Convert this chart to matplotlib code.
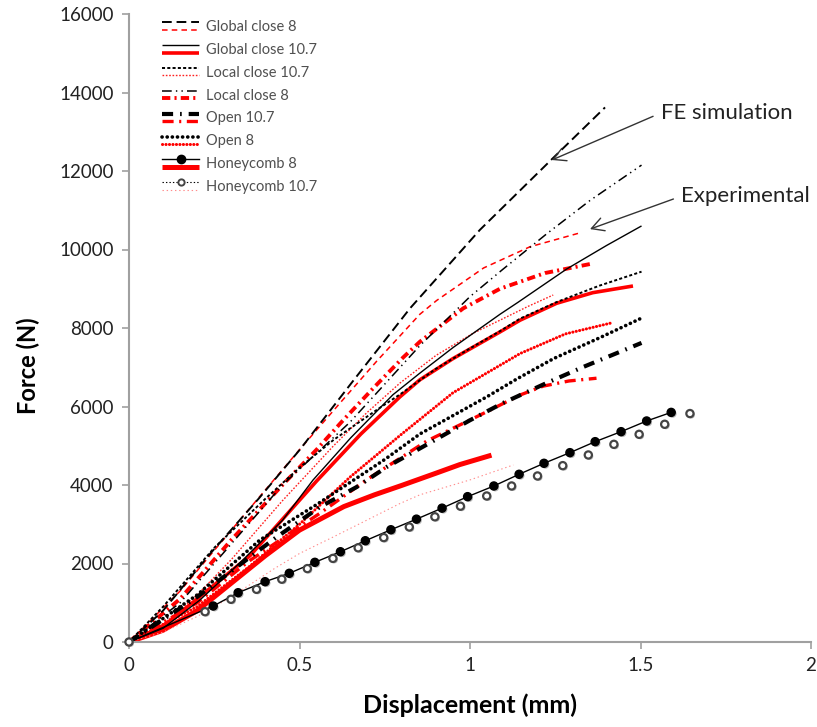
import matplotlib
matplotlib.use("Agg")
import matplotlib.pyplot as plt
import matplotlib.patheffects as pe
from matplotlib.lines import Line2D
from matplotlib.legend_handler import HandlerBase

plt.rcParams['font.family'] = ['Lato', 'DejaVu Sans']
plt.rcParams['lines.scale_dashes'] = False

# ---------------- data ----------------
x_ticks = [0, 0.5, 1, 1.5, 2]
y_ticks = [0, 2000, 4000, 6000, 8000, 10000, 12000, 14000, 16000]

labels = ["Global close 8", "Global close 10.7", "Local close 10.7", "Local close 8",
          "Open 10.7", "Open 8", "Honeycomb 8", "Honeycomb 10.7"]

# FE simulation (black)
gc8_fe_x = [0, 0.10, 0.238, 0.38, 0.501, 0.657, 0.824, 1.029, 1.24, 1.396]
gc8_fe_y = [0, 800, 2250, 3650, 4900, 6650, 8500, 10500, 12300, 13620]

gc107_fe_x = [0, 0.10, 0.208, 0.28, 0.334, 0.45, 0.54, 0.65, 0.774, 0.853, 0.95, 1.088, 1.14, 1.283, 1.40, 1.503]
gc107_fe_y = [0, 350, 1070, 1650, 2090, 3100, 4130, 5200, 6300, 6850, 7500, 8350, 8650, 9500, 10100, 10600]

lc107_fe_x = [0, 0.10, 0.25, 0.40, 0.501, 0.60, 0.726, 0.80, 0.90, 1.00, 1.088, 1.147, 1.254, 1.38, 1.503]
lc107_fe_y = [0, 900, 2400, 3650, 4450, 5150, 5910, 6340, 6960, 7480, 7920, 8240, 8660, 9080, 9435]

lc8_fe_x = [0, 0.15, 0.30, 0.45, 0.648, 0.853, 1.00, 1.097, 1.225, 1.352, 1.503]
lc8_fe_y = [0, 1000, 2500, 4000, 5600, 7550, 8800, 9500, 10400, 11250, 12150]

op107_fe_x = [0, 0.20, 0.434, 0.56, 0.668, 0.756, 0.863, 1.00, 1.097, 1.225, 1.332, 1.503]
op107_fe_y = [0, 1150, 2680, 3440, 3950, 4460, 4980, 5650, 6090, 6600, 7007, 7620]

op8_fe_x = [0, 0.20, 0.384, 0.55, 0.75, 0.853, 1.05, 1.137, 1.245, 1.38, 1.50]
op8_fe_y = [0, 1200, 2600, 3500, 4650, 5300, 6250, 6700, 7220, 7750, 8240]

hc8_fe_x = [0, 0.247, 0.320, 0.399, 0.470, 0.545, 0.620, 0.693, 0.768, 0.843, 0.918,
            0.993, 1.070, 1.144, 1.217, 1.293, 1.367, 1.443, 1.518, 1.590]
hc8_fe_y = [0, 917, 1256, 1537, 1750, 2030, 2300, 2580, 2860, 3130, 3410,
            3703, 3975, 4273, 4553, 4824, 5104, 5359, 5631, 5850]

hc107_fe_x = [0, 0.223, 0.299, 0.374, 0.448, 0.523, 0.598, 0.672, 0.747, 0.822, 0.897,
              0.972, 1.049, 1.122, 1.198, 1.272, 1.347, 1.422, 1.496, 1.571, 1.645]
hc107_fe_y = [0, 772, 1088, 1342, 1600, 1870, 2130, 2400, 2660, 2930, 3190,
              3460, 3720, 3975, 4230, 4493, 4765, 5036, 5291, 5547, 5820]

# Experimental (red)
gc8_ex_x = [0, 0.15, 0.30, 0.50, 0.62, 0.726, 0.853, 0.902, 1.04, 1.176, 1.325]
gc8_ex_y = [0, 1300, 2850, 4900, 6100, 7150, 8350, 8700, 9530, 10070, 10430]

gc107_ex_x = [0, 0.10, 0.20, 0.355, 0.55, 0.68, 0.795, 0.853, 0.95, 1.088, 1.147, 1.254, 1.36, 1.478]
gc107_ex_y = [0, 400, 1100, 2200, 4100, 5300, 6250, 6680, 7220, 7900, 8200, 8630, 8900, 9070]

lc107_ex_x = [0, 0.10, 0.20, 0.30, 0.45, 0.60, 0.696, 0.795, 0.90, 1.01, 1.088, 1.17, 1.244]
lc107_ex_y = [0, 450, 1200, 2100, 3600, 5000, 5830, 6600, 7300, 7870, 8200, 8550, 8840]

lc8_ex_x = [0, 0.15, 0.30, 0.45, 0.55, 0.628, 0.72, 0.804, 0.853, 0.98, 1.088, 1.22, 1.352]
lc8_ex_y = [0, 1100, 2600, 4000, 4900, 5650, 6500, 7250, 7650, 8500, 9000, 9400, 9630]

op107_ex_x = [0, 0.20, 0.35, 0.501, 0.56, 0.70, 0.873, 1.00, 1.05, 1.147, 1.215, 1.29, 1.371]
op107_ex_y = [0, 1000, 2050, 2940, 3280, 4150, 5120, 5656, 5870, 6293, 6520, 6650, 6720]

op8_ex_x = [0, 0.20, 0.35, 0.50, 0.648, 0.80, 0.95, 1.088, 1.147, 1.28, 1.42]
op8_ex_y = [0, 900, 1900, 3000, 4200, 5300, 6350, 7050, 7350, 7850, 8140]

hc8_ex_x = [0, 0.10, 0.20, 0.30, 0.40, 0.50, 0.63, 0.72, 0.80, 0.90, 0.97, 1.063]
hc8_ex_y = [0, 300, 800, 1500, 2200, 2850, 3450, 3750, 3990, 4300, 4520, 4760]

hc107_ex_x = [0, 0.10, 0.20, 0.30, 0.428, 0.501, 0.60, 0.795, 0.853, 1.00, 1.127]
hc107_ex_y = [0, 250, 650, 1150, 1880, 2260, 2680, 3530, 3750, 4130, 4510]

# ---------------- styles ----------------
RED = '#ff0000'
fe_styles = [
    dict(color='black', lw=1.4, dashes=(7, 3.5)),
    dict(color='black', lw=1.0, ls='-'),
    dict(color='black', lw=1.4, dashes=(2.2, 1.6)),
    dict(color='black', lw=1.1, dashes=(7, 3, 1, 3, 1, 3)),
    dict(color='black', lw=3.0, dashes=(8, 5, 1.2, 5)),
    dict(color='black', lw=2.6, dashes=(0.1, 3.6), dash_capstyle='round'),
    dict(color='black', lw=1.0, ls='-'),
    dict(color='black', lw=0.8, dashes=(1, 1.5)),
]
ex_styles = [
    dict(color=RED, lw=1.1, dashes=(4, 3)),
    dict(color=RED, lw=2.6, ls='-'),
    dict(color='#ff2020', lw=1.0, dashes=(1.2, 1.2)),
    dict(color=RED, lw=2.8, dashes=(6, 3, 1.5, 3)),
    dict(color=RED, lw=2.4, dashes=(8, 4, 1.5, 4)),
    dict(color=RED, lw=2.2, dashes=(0.1, 2.4), dash_capstyle='round'),
    dict(color=RED, lw=3.6, ls='-'),
    dict(color='#ff8c8c', lw=0.8, dashes=(1, 2)),
]

fe_data = [(gc8_fe_x, gc8_fe_y), (gc107_fe_x, gc107_fe_y), (lc107_fe_x, lc107_fe_y),
           (lc8_fe_x, lc8_fe_y), (op107_fe_x, op107_fe_y), (op8_fe_x, op8_fe_y),
           (hc8_fe_x, hc8_fe_y), (hc107_fe_x, hc107_fe_y)]
ex_data = [(gc8_ex_x, gc8_ex_y), (gc107_ex_x, gc107_ex_y), (lc107_ex_x, lc107_ex_y),
           (lc8_ex_x, lc8_ex_y), (op107_ex_x, op107_ex_y), (op8_ex_x, op8_ex_y),
           (hc8_ex_x, hc8_ex_y), (hc107_ex_x, hc107_ex_y)]

fig = plt.figure(figsize=(8.17, 7.27), dpi=100)
ax = fig.add_axes([129 / 817, 85 / 727, 682 / 817, 628 / 727])

shadow = [pe.SimplePatchShadow(offset=(1.0, -1.0), shadow_rgbFace='#888888', alpha=0.6), pe.Normal()]

# experimental curves
ex_handles = []
for (xs, ys), st in zip(ex_data, ex_styles):
    ln, = ax.plot(xs, ys, solid_capstyle='butt', solid_joinstyle='round', **st)
    ex_handles.append(ln)

# FE curves
fe_handles = []
for i, ((xs, ys), st) in enumerate(zip(fe_data, fe_styles)):
    if i == 6:
        ax.plot(xs, ys, **st)
        ax.plot(xs[1:], ys[1:], ls='none', marker='o', ms=5.8, mfc='black', mec='black',
                path_effects=shadow, clip_on=False, zorder=5)
        h = Line2D([], [], marker='o', ms=6, mfc='black', mec='black', **st)
    elif i == 7:
        ax.plot(xs, ys, ls='none', marker='o', ms=5.2, mfc='white', mec='#444444', mew=1.6,
                path_effects=shadow, clip_on=False, zorder=5)
        h = Line2D([], [], marker='o', ms=4.5, mfc='white', mec='#444444', mew=1.4, **st)
    else:
        ln, = ax.plot(xs, ys, solid_capstyle='butt', solid_joinstyle='round', **st)
        h = ln
    fe_handles.append(h)


class DualHandler(HandlerBase):
    def create_artists(self, legend, orig_handle, xdescent, ydescent, width, height, fontsize, trans):
        out = []
        for h, fy in zip(orig_handle, (0.8, 0.2)):
            y = fy * height - ydescent
            ln = Line2D([-xdescent, -xdescent + width], [y, y])
            ln.update_from(h)
            ln.set_marker('None')
            ln.set_transform(trans)
            out.append(ln)
            if h.get_marker() not in (None, 'None', '', ' '):
                m = Line2D([-xdescent + width / 2], [y], ls='none', marker=h.get_marker(),
                           ms=h.get_markersize(), mfc=h.get_markerfacecolor(),
                           mec=h.get_markeredgecolor(), mew=h.get_markeredgewidth())
                m.set_transform(trans)
                out.append(m)
        return out


handles = [(f, e) for f, e in zip(fe_handles, ex_handles)]
leg = ax.legend(handles, labels, handler_map={tuple: DualHandler()},
                loc='upper left', bbox_to_anchor=(162 / 817, (727 - 20) / 727),
                bbox_transform=fig.transFigure, frameon=False, fontsize=10.5,
                handlelength=2.55, handleheight=0.9, handletextpad=0.45,
                labelspacing=0.6, borderpad=0, borderaxespad=0)
for t in leg.get_texts():
    t.set_color('#505050')

# annotations
arrow = dict(arrowstyle='->,head_length=0.55,head_width=0.3', color='#333333', lw=1.0,
             shrinkA=4, shrinkB=0, relpos=(0, 0.5))
ax.annotate('FE simulation', xy=(1.24, 12280), xytext=(1.56, 13480), fontsize=16,
            ha='left', va='center', color='#222222', arrowprops=arrow)
ax.annotate('Experimental', xy=(1.352, 10520), xytext=(1.62, 11360), fontsize=16,
            ha='left', va='center', color='#222222', arrowprops=arrow)

# axes styling
ax.set_xlim(0, 2)
ax.set_ylim(0, 16000)
ax.set_xticks(x_ticks)
ax.set_xticklabels(['%g' % v for v in x_ticks])
ax.set_yticks(y_ticks)
ax.set_yticklabels(['%d' % v for v in y_ticks])
for s in ('top', 'right'):
    ax.spines[s].set_visible(False)
for s in ('left', 'bottom'):
    ax.spines[s].set_color('#a0a0a0')
    ax.spines[s].set_linewidth(1.5)
ax.tick_params(axis='both', direction='out', length=5, width=1.2, color='#a0a0a0',
               labelsize=13.5, labelcolor='#222222', pad=6)
ax.set_xlabel('Displacement (mm)', fontsize=18, fontweight='bold', labelpad=14)
ax.set_ylabel('Force (N)', fontsize=17, fontweight='bold')
ax.yaxis.set_label_coords(-0.13, 0.44)

fig.savefig('out.png', dpi=100)
